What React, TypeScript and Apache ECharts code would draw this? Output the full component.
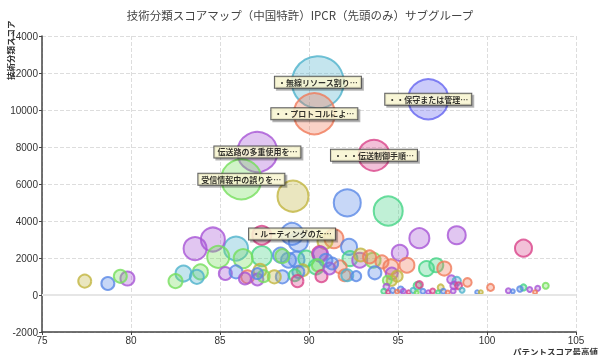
import React, { useEffect, useRef } from "react";
import * as echarts from "echarts";

const TITLE = "技術分類スコアマップ（中国特許）IPCR（先頭のみ）サブグループ";
const X_NAME = "パテントスコア最高値";
const Y_NAME = "技術分類スコア";

const palette: Record<string, string> = {
  C: "#4fb3cc",
  S: "#f07a5a",
  P: "#a755d6",
  G: "#76df5c",
  K: "#d9448a",
  O: "#c2b540",
  B: "#5a88e6",
  M: "#45d486",
  V: "#6464f0",
};

const bubbleX = [
  90.5, 90.3, 96.7, 87.1, 86.2, 93.65, 89.1, 94.45, 92.15, 85.9,
  84.6, 83.6, 84.9, 89.05, 96.2, 87.35, 89.4, 87.35, 91.4, 86.3,
  98.3, 102.05, 95.1, 92.25, 89.3, 89.85, 82.95, 90.9, 88.4, 88.85,
  90.6, 90.65, 90.4, 92.3, 92.85, 93.6, 94.6, 95.5, 96.6, 83.9,
  88.5, 97.15, 97.6, 79.8, 82.5, 83.7, 77.4, 78.7, 79.4, 85.3,
  85.9, 86.55, 87.25, 88.5, 88.05, 90.95, 91.75, 92.9, 93.4, 94.1,
  93.7, 86.4, 87.1, 87.45, 89.65, 89.4, 89.2, 89.35, 90.5, 90.7,
  91.15, 91.3, 92.0, 92.15, 94.65, 87.1, 94.95, 92.65, 94.65, 94.4,
  98.0, 98.3, 98.9, 96.1, 98.15, 98.4, 96.2, 100.2, 97.4, 103.3,
  102.05, 94.35, 95.15, 101.85, 102.85, 102.4, 101.2, 94.2, 94.45, 94.7,
  94.95, 95.3, 95.6, 95.85, 96.05, 96.4, 96.7, 96.95, 97.25, 97.55,
  97.8, 98.1, 98.6, 99.45, 99.65, 101.45, 102.7,
];

const bubbleY = [
  11500, 9800, 10580, 7730, 6260, 7550, 5340, 4540, 4980, 2510,
  3000, 2510, 2060, 3300, 3070, 2100, 2870, 3230, 3050, 1970,
  3230, 2530, 2280, 2600, 1920, 1970, 1160, 2900, 2160, 1880,
  2240, 2200, 1520, 1970, 1880, 1880, 1520, 1610, 1430, 1250,
  2100, 1610, 1430, 890, 750, 980, 750, 620, 1010, 1160,
  1250, 980, 1340, 980, 980, 1880, 1520, 2160, 2060, 1790,
  1200, 890, 840, 1020, 1340, 1250, 1070, 750, 1600, 1020,
  1430, 1700, 1070, 1070, 1160, 1160, 1020, 1020, 770, 790,
  840, 750, 680, 500, 520, 500, 560, 410, 410, 500,
  410, 450, 300, 320, 360, 300, 230, 200, 150, 250,
  180, 200, 150, 250, 120, 200, 150, 220, 140, 200,
  130, 220, 260, 150, 150, 200, 150,
];

const bubbleSize = [
  52, 41, 40, 40, 40, 31, 31, 29, 27, 24,
  24, 23, 22, 22, 20, 20, 19, 19, 19, 19,
  18, 17, 16, 16, 16, 16, 16, 15, 15, 15,
  15, 15, 15, 15, 15, 15, 15, 15, 15, 15,
  14, 14, 14, 14, 14, 14, 13, 13, 13, 13,
  13, 13, 13, 13, 13, 13, 13, 13, 13, 13,
  13, 12, 12, 12, 12, 12, 12, 12, 12, 12,
  12, 12, 12, 12, 12, 11, 11, 10, 10, 9,
  8.5, 8.5, 8.5, 8, 7.5, 7, 7, 7, 6, 6,
  6, 6, 6, 5.5, 5, 5, 5, 5, 4, 5,
  4, 5, 4, 5, 4, 5, 4, 5, 4, 5,
  4, 5, 5, 4, 4, 4, 4,
];

const bubbleColor = [
  "C", "S", "V", "P", "G", "K", "O", "M", "B", "C",
  "P", "P", "G", "B", "P", "M", "B", "K", "S", "G",
  "P", "K", "P", "B", "B", "M", "C", "O", "B", "B",
  "K", "P", "M", "M", "P", "G", "S", "S", "M", "G",
  "G", "M", "S", "P", "G", "C", "O", "B", "G", "P",
  "B", "S", "O", "B", "O", "B", "S", "O", "S", "S",
  "B", "P", "P", "G", "O", "B", "M", "K", "G", "K",
  "P", "B", "S", "C", "P", "B", "O", "B", "O", "G",
  "P", "C", "S", "M", "P", "K", "K", "S", "O", "G",
  "M", "P", "B", "B", "P", "P", "P", "M", "K", "B",
  "S", "P", "K", "C", "G", "B", "P", "K", "M", "B",
  "S", "P", "C", "B", "O", "B", "S",
];

const labelIndex = [0, 1, 2, 3, 4, 5, 13];
const labelText = [
  "・無線リソース割り…",
  "・・プロトコルによ…",
  "・・保守または管理…",
  "伝送路の多重使用を…",
  "受信情報中の誤りを…",
  "・・・伝送制御手順…",
  "・ルーティングのた…",
];

function withAlpha(hex: string, a: number) {
  const r = parseInt(hex.slice(1, 3), 16);
  const g = parseInt(hex.slice(3, 5), 16);
  const b = parseInt(hex.slice(5, 7), 16);
  return `rgba(${r},${g},${b},${a})`;
}

export default function App() {
  const ref = useRef<HTMLDivElement>(null);
  useEffect(() => {
    if (!ref.current) return;
    const chart = echarts.init(ref.current, undefined, { renderer: "svg" });

    const bubbles = bubbleX.map((x, i) => ({
      value: [x, bubbleY[i], bubbleSize[i]],
      itemStyle: {
        color: withAlpha(palette[bubbleColor[i]], 0.42),
        borderColor: palette[bubbleColor[i]],
        borderWidth: 2,
      },
    }));

    const labelled = labelIndex.map((idx, k) => ({
      name: labelText[k],
      value: [bubbleX[idx], bubbleY[idx], bubbleSize[idx]],
    }));

    const axisFont = { fontFamily: "Liberation Sans, Arial, sans-serif", fontSize: 10, color: "#333" };
    const nameFont = "bold 8.5px 'Noto Sans CJK JP'";

    chart.setOption({
      animation: false,
      title: {
        text: TITLE,
        left: "center",
        top: 4,
        textStyle: { fontSize: 11.5, fontWeight: "normal", color: "#444", fontFamily: "Noto Sans CJK JP" },
      },
      grid: { left: 42, right: 24, top: 36, bottom: 23, containLabel: false, outerBoundsMode: "none" },
      graphic: [
        {
          type: "text",
          x: 598,
          y: 346,
          style: { text: X_NAME, font: nameFont, lineHeight: 9, fill: "#333", align: "right", verticalAlign: "top" },
        },
        {
          type: "text",
          x: 14,
          y: 80,
          rotation: Math.PI / 2,
          style: { text: Y_NAME, font: nameFont, fill: "#333", align: "left", verticalAlign: "bottom" },
        },
      ],
      xAxis: {
        type: "value",
        min: 75,
        max: 105,
        interval: 5,
        axisLine: { onZero: false, lineStyle: { color: "#444", width: 1.5 } },
        axisTick: { show: true, length: 3, lineStyle: { color: "#444" } },
        axisLabel: { ...axisFont, margin: 3, lineHeight: 10, formatter: (v: number) => String(v) },
        splitLine: { show: true, lineStyle: { color: "#dddddd", type: "dashed" } },
      },
      yAxis: {
        type: "value",
        min: -2000,
        max: 14000,
        interval: 2000,
        axisLine: { show: true, lineStyle: { color: "#444", width: 1.5 } },
        axisTick: { show: true, length: 3, lineStyle: { color: "#444" } },
        axisLabel: { ...axisFont, margin: 4, formatter: (v: number) => String(v) },
        splitLine: { show: true, lineStyle: { color: "#dddddd", type: "dashed" } },
      },
      series: [
        {
          type: "scatter",
          data: bubbles,
          symbolSize: (v: number[]) => v[2],
          z: 2,
          markLine: {
            silent: true,
            symbol: "none",
            label: { show: false },
            lineStyle: { color: "#e6e6e6", width: 2, type: "solid" },
            data: [{ yAxis: 0 }],
          },
        },
        {
          type: "scatter",
          data: labelled,
          symbolSize: 1,
          z: 5,
          itemStyle: { color: "rgba(0,0,0,0)" },
          label: {
            show: true,
            position: "inside",
            formatter: (p: any) => p.name,
            fontSize: 8,
            lineHeight: 9,
            fontWeight: "bold",
            color: "#000",
            fontFamily: "Noto Sans CJK JP",
            backgroundColor: "#fffcd6",
            borderColor: "#333",
            borderWidth: 1,
            padding: [1, 3],
            shadowColor: "rgba(0,0,0,0.35)",
            shadowOffsetX: 2,
            shadowOffsetY: 2,
            shadowBlur: 1,
          },
        },
      ],
    });
    return () => chart.dispose();
  }, []);
  return <div ref={ref} style={{ position: "fixed", left: 0, top: 0, width: 600, height: 355 }} />;
}
